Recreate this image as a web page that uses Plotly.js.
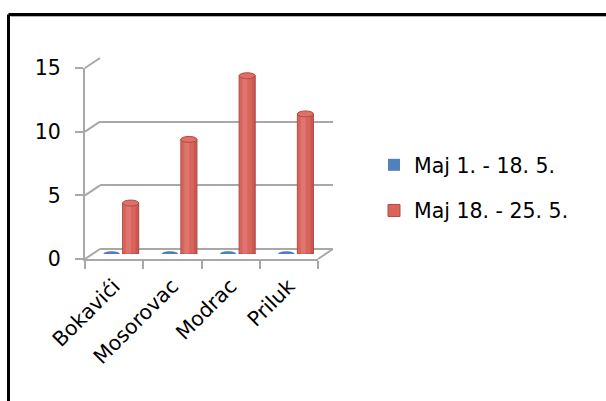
<!DOCTYPE html>
<html>
<head>
<meta charset="utf-8">
<script src="https://cdn.plot.ly/plotly-3.0.1.min.js"></script>
<style>
  html, body { margin: 0; padding: 0; background: #ffffff; }
  #chart { width: 606px; height: 401px; }
</style>
</head>
<body>
<div id="chart"></div>
<script>
// Sites and counts for the two periods in May
const categories = ['Bokavići', 'Mosorovac', 'Modrac', 'Priluk'];
const seriesNames = ['Maj 1. - 18. 5.', 'Maj 18. - 25. 5.'];
const firstPeriod = [0, 0, 0, 0];
const secondPeriod = [4, 9, 14, 11];
const yTicks = [0, 5, 10, 15];

// ---- page geometry (pixels) ----
const W = 606, H = 401;
const px = v => v / W;
const py = v => 1 - v / H;

// front plane of the pseudo-3D box, and its depth offset
const front = { x0: 85, x1: 318, yBottom: 259, yTop: 68 };
const depth = { dx: 15, dy: -10 };
const yMax = 15;
const unit = (front.yBottom - front.yTop) / yMax;

function plane(f) {
  return {
    x: [px(front.x0 + depth.dx * f), px(front.x1 + depth.dx * f)],
    y: [py(front.yBottom + depth.dy * f), py(front.yTop + depth.dy * f)]
  };
}
const pFront = plane(0), pBack = plane(1), pMid = plane(0.5);

const gridColor = '#a8a8a8';
const redFill = '#d9645c';
const redEdge = '#b24b45';
const blueFill = '#4f81bd';
const font = { family: 'DejaVu Sans', size: 20.5, color: '#000000' };

// bar group layout inside each category (mid-depth plane)
const bargap = 0.38, bargroupgap = 0.11;
const catPx = (front.x1 - front.x0) / categories.length;
const slotPx = catPx * (1 - bargap) / 2;
const barPx = slotPx * (1 - bargroupgap);

// invisible carrier so an axis pair gets its categories and is drawn
function carrier(xa, ya) {
  return {
    type: 'scatter', mode: 'none', x: categories, y: secondPeriod,
    xaxis: xa, yaxis: ya, showlegend: false, hoverinfo: 'skip'
  };
}

const traces = [
  carrier('x', 'y'),
  carrier('x2', 'y2'),
  {
    type: 'bar', name: seriesNames[0], x: categories, y: firstPeriod,
    xaxis: 'x3', yaxis: 'y3', marker: { color: blueFill },
    legendgroup: 'a', hoverinfo: 'x+y'
  },
  {
    type: 'bar', name: seriesNames[1], x: categories, y: secondPeriod,
    xaxis: 'x3', yaxis: 'y3',
    marker: { color: redFill, line: { color: redEdge, width: 1 } },
    legendgroup: 'b', hoverinfo: 'x+y'
  }
];

const shapes = [];

// side wall and floor edges joining the front plane to the back wall
yTicks.forEach(v => {
  shapes.push({
    type: 'line', xref: 'paper', yref: 'paper', layer: 'below',
    x0: px(front.x0), y0: py(front.yBottom - v * unit),
    x1: px(front.x0 + depth.dx), y1: py(front.yBottom + depth.dy - v * unit),
    line: { color: gridColor, width: 2 }
  });
});
shapes.push({
  type: 'line', xref: 'paper', yref: 'paper', layer: 'below',
  x0: px(front.x1), y0: py(front.yBottom),
  x1: px(front.x1 + depth.dx), y1: py(front.yBottom + depth.dy),
  line: { color: gridColor, width: 2 }
});

// flat discs for the first period and cylinders for the second period
categories.forEach((c, i) => {
  const blueC = -slotPx / 2 - 1;
  shapes.push({
    type: 'circle', xref: 'x3', yref: 'y3',
    xsizemode: 'pixel', xanchor: i, x0: blueC - barPx / 2, x1: blueC + barPx / 2,
    ysizemode: 'pixel', yanchor: firstPeriod[i], y0: -3, y1: 2.5,
    fillcolor: blueFill, line: { color: '#3f6fa8', width: 0.5 }
  });
  const redC = slotPx / 2;
  // rounded base under the cylinder body
  shapes.push({
    type: 'circle', xref: 'x3', yref: 'y3', layer: 'between',
    xsizemode: 'pixel', xanchor: i, x0: redC - barPx / 2, x1: redC + barPx / 2,
    ysizemode: 'pixel', yanchor: 0, y0: -3, y1: 3,
    fillcolor: redFill, line: { color: redEdge, width: 1 }
  });
  // soft highlight and shade along the body
  shapes.push({
    type: 'rect', xref: 'x3', yref: 'y3',
    xsizemode: 'pixel', xanchor: i, x0: redC - barPx * 0.28, x1: redC + barPx * 0.02,
    y0: 0, y1: secondPeriod[i],
    fillcolor: 'rgba(255,255,255,0.12)', line: { width: 0 }
  });
  shapes.push({
    type: 'rect', xref: 'x3', yref: 'y3',
    xsizemode: 'pixel', xanchor: i, x0: redC + barPx * 0.3, x1: redC + barPx / 2,
    y0: 0, y1: secondPeriod[i],
    fillcolor: 'rgba(120,30,25,0.15)', line: { width: 0 }
  });
  // top cap
  shapes.push({
    type: 'circle', xref: 'x3', yref: 'y3',
    xsizemode: 'pixel', xanchor: i, x0: redC - barPx / 2, x1: redC + barPx / 2,
    ysizemode: 'pixel', yanchor: secondPeriod[i], y0: -3, y1: 3,
    fillcolor: '#df6f68', line: { color: redEdge, width: 1 }
  });
});

// frame around the chart area
shapes.push({
  type: 'line', xref: 'paper', yref: 'paper',
  x0: px(8.5), y0: py(14.5), x1: px(8.5), y1: 0,
  line: { color: '#000000', width: 3 }
});
shapes.push({
  type: 'line', xref: 'paper', yref: 'paper',
  x0: px(8.5), y0: py(14.5), x1: 1, y1: py(14.5),
  line: { color: '#000000', width: 3 }
});
shapes.push({
  type: 'line', xref: 'paper', yref: 'paper',
  x0: px(10.5), y0: py(16.5), x1: 1, y1: py(16.5),
  line: { color: '#b0b0b0', width: 1 }
});

const range = [0, yMax];
const catRange = [-0.5, categories.length - 0.5];

const layout = {
  width: W, height: H,
  margin: { l: 0, r: 0, t: 0, b: 0 },
  paper_bgcolor: '#ffffff', plot_bgcolor: 'rgba(0,0,0,0)',
  font: font,
  barmode: 'group', bargap: bargap, bargroupgap: bargroupgap,
  showlegend: true,
  legend: {
    x: px(374), y: py(145), xanchor: 'left', yanchor: 'top',
    font: font, tracegroupgap: 16, bgcolor: 'rgba(0,0,0,0)'
  },
  // front plane: value axis with labels and category axis
  xaxis: {
    domain: pFront.x, anchor: 'y', type: 'category', range: catRange,
    showline: true, linecolor: gridColor, linewidth: 2,
    ticks: 'outside', tickson: 'boundaries', ticklen: 8, tickwidth: 2, tickcolor: gridColor,
    tickangle: -45, tickfont: font, ticklabelstandoff: 5,
    showgrid: false, zeroline: false, fixedrange: true
  },
  yaxis: {
    domain: pFront.y, anchor: 'x', range: range, tickvals: yTicks,
    showline: true, linecolor: gridColor, linewidth: 2,
    ticks: 'outside', ticklen: 8, tickwidth: 2, tickcolor: gridColor,
    ticklabelstandoff: 10, tickfont: font,
    showgrid: false, zeroline: false, fixedrange: true
  },
  // back wall: gridlines only
  xaxis2: {
    domain: pBack.x, anchor: 'y2', type: 'category', range: catRange,
    showticklabels: false, showgrid: false, zeroline: false, showline: false, fixedrange: true
  },
  yaxis2: {
    domain: pBack.y, anchor: 'x2', range: range, tickvals: yTicks,
    showticklabels: false, showgrid: true, gridcolor: gridColor, gridwidth: 2,
    zeroline: true, zerolinecolor: gridColor, zerolinewidth: 2,
    showline: false, fixedrange: true
  },
  // mid-depth plane carrying the columns
  xaxis3: {
    domain: pMid.x, anchor: 'y3', type: 'category', range: catRange,
    showticklabels: false, showgrid: false, zeroline: false, showline: false, fixedrange: true
  },
  yaxis3: {
    domain: pMid.y, anchor: 'x3', range: range,
    showticklabels: false, showgrid: false, zeroline: false, showline: false, fixedrange: true
  },
  shapes: shapes
};

Plotly.newPlot('chart', traces, layout, { displayModeBar: false, staticPlot: true });
</script>
</body>
</html>
